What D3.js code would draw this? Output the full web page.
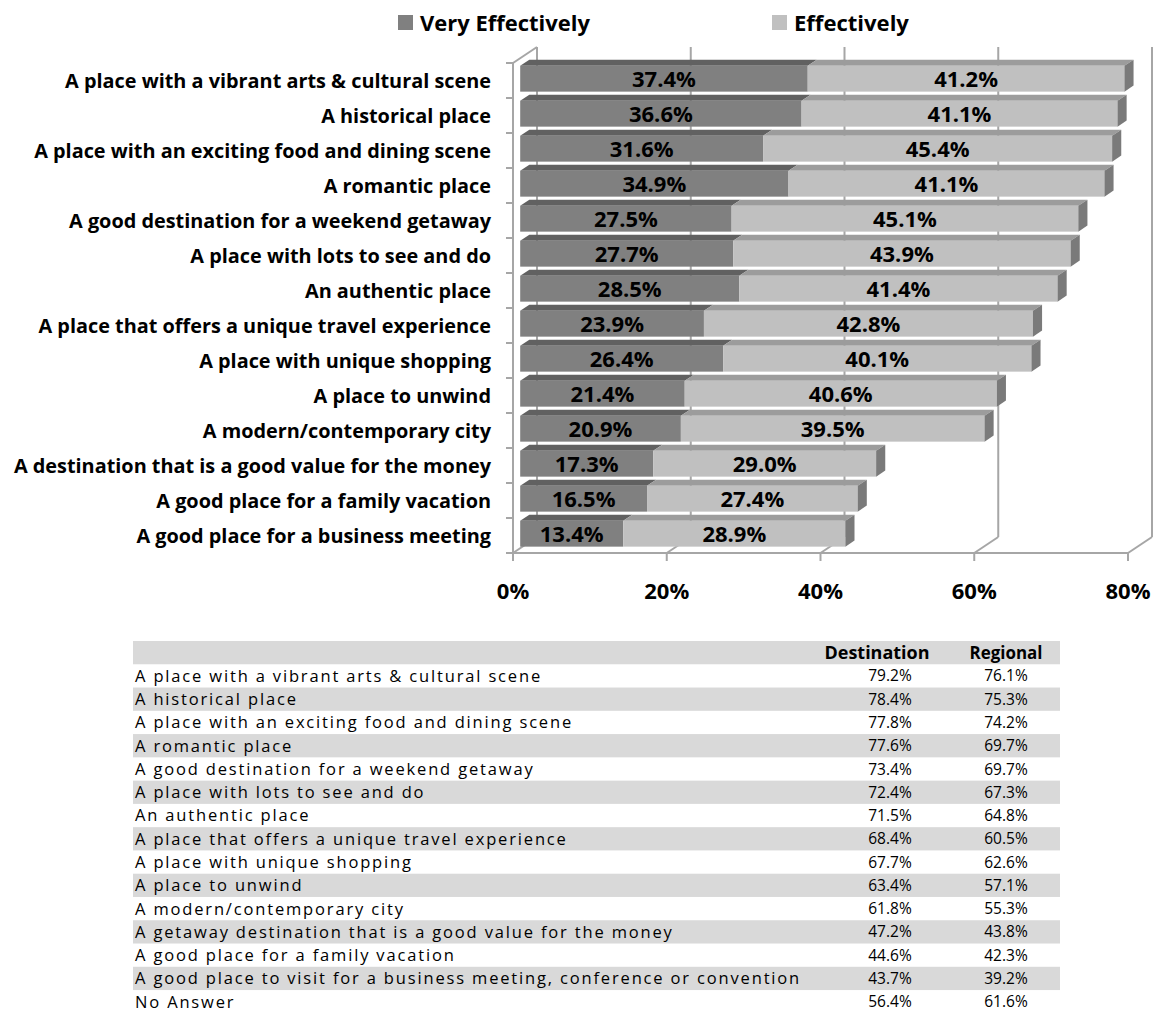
<!DOCTYPE html>
<html><head><meta charset="utf-8">
<script src="https://cdn.jsdelivr.net/npm/d3@7"></script>
<style>body{margin:0;background:#fff}svg{display:block}</style>
</head><body>
<svg id="c" width="1154" height="1016"></svg>
<script>
// ---- data ----
const categories = [
  "A place with a vibrant arts & cultural scene",
  "A historical place",
  "A place with an exciting food and dining scene",
  "A romantic place",
  "A good destination for a weekend getaway",
  "A place with lots to see and do",
  "An authentic place",
  "A place that offers a unique travel experience",
  "A place with unique shopping",
  "A place to unwind",
  "A modern/contemporary city",
  "A destination that is a good value for the money",
  "A good place for a family vacation",
  "A good place for a business meeting"
];
const veryEffectively = [37.4,36.6,31.6,34.9,27.5,27.7,28.5,23.9,26.4,21.4,20.9,17.3,16.5,13.4];
const effectively     = [41.2,41.1,45.4,41.1,45.1,43.9,41.4,42.8,40.1,40.6,39.5,29.0,27.4,28.9];
const seriesNames = ["Very Effectively","Effectively"];
const xTicks = [0,20,40,60,80];

const tableHeader = ["", "Destination", "Regional"];
const tableRows = [
  "A place with a vibrant arts & cultural scene",
  "A historical place",
  "A place with an exciting food and dining scene",
  "A romantic place",
  "A good destination for a weekend getaway",
  "A place with lots to see and do",
  "An authentic place",
  "A place that offers a unique travel experience",
  "A place with unique shopping",
  "A place to unwind",
  "A modern/contemporary city",
  "A getaway destination that is a good value for the money",
  "A good place for a family vacation",
  "A good place to visit for a business meeting, conference or convention",
  "No Answer"
];
const destination = ["79.2%","78.4%","77.8%","77.6%","73.4%","72.4%","71.5%","68.4%","67.7%","63.4%","61.8%","47.2%","44.6%","43.7%","56.4%"];
const regional    = ["76.1%","75.3%","74.2%","69.7%","69.7%","67.3%","64.8%","60.5%","62.6%","57.1%","55.3%","43.8%","42.3%","39.2%","61.6%"];

// ---- layout ----
const svg = d3.select("#c");
const FONT = "'Open Sans', sans-serif";
const x = d3.scaleLinear().domain([0,80]).range([513,1128]);
const y = d3.scaleBand().domain(categories).range([63,553]).paddingInner(0.26).paddingOuter(0.13);
const yb = d3.scaleBand().domain(categories).range([63,553]);
const D = {dx:24, dy:-16};           // wall depth
const f0 = 0.3, f1 = 0.68;           // bar depth fractions
const gridC = "#a6a6a6";

const grid = svg.append("g").attr("stroke", gridC).attr("stroke-width", 2).attr("fill","none");
xTicks.forEach(t => {
  grid.append("line").attr("x1", x(t)+D.dx).attr("x2", x(t)+D.dx)
    .attr("y1", 63+D.dy).attr("y2", 553+D.dy);
  grid.append("line").attr("x1", x(t)).attr("y1", 553)
    .attr("x2", x(t)+D.dx).attr("y2", 553+D.dy);
  grid.append("line").attr("x1", x(t)).attr("x2", x(t)).attr("y1", 553).attr("y2", 561);
});
grid.append("line").attr("x1", x(0)).attr("x2", x(0)).attr("y1", 63).attr("y2", 553);
grid.append("line").attr("x1", x(0)).attr("y1", 63).attr("x2", x(0)+D.dx).attr("y2", 63+D.dy);
grid.append("line").attr("x1", x(0)).attr("x2", x(80)).attr("y1", 553).attr("y2", 553);
categories.forEach(c => {
  grid.append("line").attr("x1", x(0)-7).attr("x2", x(0)).attr("y1", yb(c)).attr("y2", yb(c));
});
grid.append("line").attr("x1", x(0)-7).attr("x2", x(0)).attr("y1", 553).attr("y2", 553);

// bars
const colors = {front:["#808080","#c0c0c0"], top:["#616161","#9c9c9c"], side:"#7a7a7a"};
const ox0 = D.dx*f0, oy0 = D.dy*f0, ox1 = D.dx*f1, oy1 = D.dy*f1;
const bars = svg.append("g");
categories.forEach((c,i) => {
  const segs = [[0, veryEffectively[i]], [veryEffectively[i], veryEffectively[i]+effectively[i]]];
  const h = y.bandwidth();
  const top = y(c) + oy0 + 3;
  segs.forEach((s,k) => {
    const xa = x(s[0]) + ox0, xb = x(s[1]) + ox0;
    const bx = ox1-ox0, by = oy1-oy0;
    bars.append("polygon").attr("fill", colors.top[k])
      .attr("points", [[xa,top],[xb,top],[xb+bx,top+by],[xa+bx,top+by]].join(" "));
    bars.append("rect").attr("x", xa).attr("y", top).attr("width", xb-xa).attr("height", h)
      .attr("fill", colors.front[k]);
    if (k === 1) {
      bars.append("polygon").attr("fill", colors.side)
        .attr("points", [[xb,top],[xb+bx,top+by],[xb+bx,top+h+by],[xb,top+h]].join(" "));
    }
    const val = k===0 ? veryEffectively[i] : effectively[i];
    bars.append("text").attr("x", (xa+xb)/2).attr("y", top+h/2).attr("dy","0.36em")
      .attr("text-anchor","middle").attr("font-family",FONT).attr("font-weight","bold")
      .attr("font-size",22).attr("fill","#000").text(val.toFixed(1)+"%");
  });
});

// category labels
const catLab = svg.append("g").selectAll("text").data(categories).join("text")
  .attr("x", 491).attr("y", d => y(d) + y.bandwidth()/2 + oy0 + 5).attr("dy","0.36em")
  .attr("text-anchor","end").attr("font-family",FONT).attr("font-weight","bold")
  .attr("font-size",17).attr("fill","#000").text(d => d);
{ const w = catLab.node().getComputedTextLength(); catLab.attr("font-size", 17*426/w); }

// x tick labels
svg.append("g").selectAll("text").data(xTicks).join("text")
  .attr("x", d => x(d)).attr("y", 591).attr("dy","0.36em").attr("text-anchor","middle")
  .attr("font-family",FONT).attr("font-weight","bold").attr("font-size",22).text(d => d+"%");

// legend
const legX = [398, 772];
seriesNames.forEach((n,k) => {
  svg.append("rect").attr("x", legX[k]).attr("y", 15).attr("width",15).attr("height",15)
    .attr("fill", colors.front[k]);
  const t = svg.append("text").attr("x", legX[k]+22).attr("y", 23).attr("dy","0.36em")
    .attr("font-family",FONT).attr("font-weight","bold").attr("font-size",19).text(n);
  const w = t.node().getComputedTextLength();
  t.attr("font-size", 19*(k===0 ? 170 : 115)/w);
});

// ---- table ----
const tTop = 641, rowH = 23.27, tL = 133, tR = 1060;
const tbl = svg.append("g");
const allRows = [tableHeader].concat(tableRows.map((r,i)=>[r, destination[i], regional[i]]));
allRows.forEach((r,i) => {
  if (i % 2 === 0) tbl.append("rect").attr("x", tL).attr("y", tTop + i*rowH)
    .attr("width", tR-tL).attr("height", rowH).attr("fill","#d9d9d9");
});
const TF = "'Open Sans', sans-serif";
const headW = [0, 105, 73];
allRows.forEach((r,i) => {
  const cy = tTop + i*rowH + rowH/2;
  const g = tbl.append("g").attr("font-family",TF).attr("fill","#000");
  if (i === 0) {
    [1,2].forEach(j => {
      const t = g.append("text").attr("x", j===1 ? 877 : 1006).attr("y", cy).attr("dy","0.36em")
        .attr("text-anchor","middle").attr("font-weight","bold").attr("font-size",14).text(r[j]);
      const w = t.node().getComputedTextLength();
      t.attr("font-size", 14*headW[j]/w);
    });
  } else {
    g.append("text").attr("class","rl").attr("x", 135).attr("y", cy).attr("dy","0.36em")
      .attr("font-size",16.5).text(r[0]);
    g.append("text").attr("x", 890).attr("y", cy).attr("dy","0.36em").attr("text-anchor","middle")
      .attr("font-size",15.5).text(r[1]);
    g.append("text").attr("x", 1006).attr("y", cy).attr("dy","0.36em").attr("text-anchor","middle")
      .attr("font-size",15.5).text(r[2]);
  }
});
const first = tbl.select("text.rl").node();
const w0 = first.getComputedTextLength();
const ls = Math.max(0, (407 - w0) / tableRows[0].length);
tbl.selectAll("text.rl").attr("letter-spacing", ls);
</script>
</body></html>
